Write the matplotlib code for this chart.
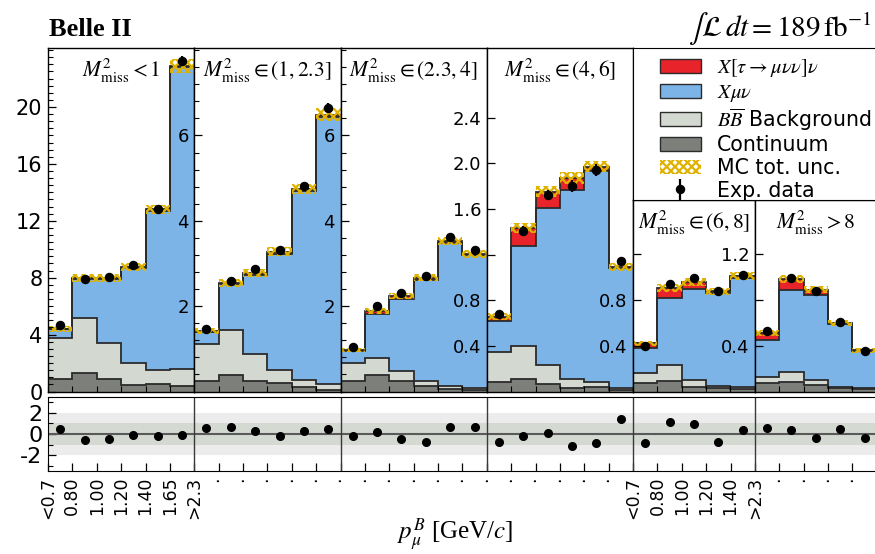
import numpy as np
import matplotlib
matplotlib.use('Agg')
import matplotlib.pyplot as plt
from matplotlib.patches import Patch
from matplotlib.ticker import MultipleLocator, FixedLocator

plt.rcParams['mathtext.fontset'] = 'stix'
plt.rcParams['font.family'] = ['DejaVu Sans']
plt.rcParams['axes.unicode_minus'] = False
plt.rcParams['hatch.linewidth'] = 1.6

# --- data ---
panel_labels = [r'$M^2_{\rm miss}<1$', r'$M^2_{\rm miss}\in(1,2.3]$', r'$M^2_{\rm miss}\in(2.3,4]$',
                r'$M^2_{\rm miss}\in(4,6]$', r'$M^2_{\rm miss}\in(6,8]$', r'$M^2_{\rm miss}>8$']
tick_labels_6 = ['<0.7', '0.80', '1.00', '1.20', '1.40', '1.65', '>2.3']
tick_labels_5 = ['<0.7', '0.80', '1.00', '1.20', '1.40', '>2.3']

continuum = [
    [0.85, 1.29, 0.85, 0.47, 0.54, 0.42],
    [0.25, 0.39, 0.25, 0.20, 0.10, 0.04],
    [0.235, 0.39, 0.235, 0.12, 0.06, 0.04],
    [0.086, 0.11, 0.066, 0.03, 0.037, 0.013],
    [0.072, 0.095, 0.042, 0.028, 0.02],
    [0.072, 0.086, 0.057, 0.028, 0.02],
]
bb_bkg = [
    [2.90, 3.91, 2.53, 1.53, 0.99, 1.18],
    [0.86, 1.04, 0.64, 0.31, 0.17, 0.13],
    [0.435, 0.39, 0.235, 0.115, 0.06, 0.04],
    [0.264, 0.29, 0.164, 0.08, 0.049, 0.017],
    [0.093, 0.135, 0.058, 0.02, 0.017],
    [0.058, 0.088, 0.043, 0.014, 0.01],
]
x_munu = [
    [0.61, 2.70, 4.56, 6.68, 11.17, 21.18],
    [0.28, 1.08, 1.84, 2.72, 4.42, 6.27],
    [0.29, 1.04, 1.70, 2.375, 3.37, 3.11],
    [0.27, 0.876, 1.38, 1.66, 1.844, 1.05],
    [0.215, 0.59, 0.80, 0.812, 0.953],
    [0.32, 0.716, 0.746, 0.548, 0.325],
]
x_tau = [
    [0.04, 0.06, 0.06, 0.08, 0.10, 0.12],
    [0.02, 0.04, 0.05, 0.05, 0.05, 0.05],
    [0.02, 0.06, 0.07, 0.06, 0.04, 0.03],
    [0.035, 0.154, 0.14, 0.10, 0.04, 0.015],
    [0.04, 0.085, 0.055, 0.015, 0.017],
    [0.06, 0.09, 0.044, 0.01, 0.005],
]
mc_unc = [
    [0.20, 0.27, 0.27, 0.29, 0.33, 0.48],
    [0.07, 0.09, 0.09, 0.10, 0.12, 0.15],
    [0.05, 0.07, 0.07, 0.08, 0.09, 0.09],
    [0.03, 0.045, 0.05, 0.05, 0.05, 0.035],
    [0.022, 0.035, 0.035, 0.03, 0.035],
    [0.025, 0.035, 0.03, 0.025, 0.02],
]
data = [
    [4.65, 7.93, 8.05, 8.87, 12.8, 23.26],
    [1.475, 2.6, 2.86, 3.32, 4.82, 6.64],
    [1.035, 2.0, 2.31, 2.7, 3.61, 3.32],
    [0.68, 1.41, 1.72, 1.80, 1.94, 1.14],
    [0.40, 0.94, 0.99, 0.88, 1.02],
    [0.525, 0.99, 0.875, 0.61, 0.35],
]
data_err = [
    [0.15, 0.2, 0.2, 0.2, 0.25, 0.35],
    [0.06, 0.08, 0.08, 0.09, 0.1, 0.12],
    [0.05, 0.07, 0.07, 0.08, 0.09, 0.09],
    [0.025, 0.04, 0.045, 0.05, 0.05, 0.035],
    [0.02, 0.035, 0.035, 0.03, 0.035],
    [0.025, 0.035, 0.03, 0.025, 0.02],
]
pulls = [
    [0.51, -0.57, -0.42, -0.05, -0.20, -0.11],
    [0.60, 0.67, 0.26, -0.20, 0.26, 0.42],
    [-0.20, 0.20, -0.48, -0.79, 0.67, 0.67],
    [-0.79, -0.17, 0.05, -1.13, -0.88, 1.44],
    [-0.88, 1.13, 0.95, -0.76, 0.39],
    [0.60, 0.33, -0.33, 0.42, -0.36],
]

ymax = [24.15, 8.05, 8.05, 3.01, 1.675, 1.675]
ytick_pos = [[0, 4, 8, 12, 16, 20], [2, 4, 6], [2, 4, 6],
             [0.4, 0.8, 1.2, 1.6, 2.0, 2.4], [0.4, 0.8, 1.2], [0.4, 0.8, 1.2]]
ytick_txt = [['0', '4', '8', '12', '16', '20'], ['2', '4', '6'], ['2', '4', '6'],
             ['0.4', '0.8', '', '1.6', '2.0', '2.4'], ['0.4', '0.8', ''], ['0.4', '', '1.2']]
minor_step = [0.5, 0.4, 0.4, None, None, None]

c_red, c_blue, c_bb, c_cont, c_gold = '#e8232a', '#7db4e8', '#d3d8d0', '#7d7f7b', '#e0b200'
c_line = '#2b2b2b'

# --- layout in pixels ---
W, H = 875, 554
fig = plt.figure(figsize=(W / 100, H / 100), dpi=100)

def px_axes(x0, y0, x1, y1):
    return fig.add_axes([x0 / W, 1 - y1 / H, (x1 - x0) / W, (y1 - y0) / H])

X0, BW = 48, 24.375
bounds = [0, 6, 12, 18, 24, 29, 34]
ytops = [48, 48, 48, 48, 200, 200]
YB = 391.5

err_handle = None
for k in range(6):
    lo, hi = bounds[k], bounds[k + 1]
    ax = px_axes(X0 + lo * BW, ytops[k], X0 + hi * BW, YB)
    edges = np.arange(lo, hi + 1)
    centers = edges[:-1] + 0.5
    cont = np.array(continuum[k])
    l1 = cont + np.array(bb_bkg[k])
    l2 = l1 + np.array(x_munu[k])
    l3 = l2 + np.array(x_tau[k])
    for top, base, col in [(cont, 0, c_cont), (l1, cont, c_bb), (l2, l1, c_blue), (l3, l2, c_red)]:
        ax.stairs(top, edges, baseline=base, fill=True, color=col, lw=0)
    for top in [cont, l1, l2, l3]:
        ax.stairs(top, edges, baseline=None, color=c_line, lw=1.3)
    unc = np.array(mc_unc[k])
    ax.stairs(l3 + unc, edges, baseline=l3 - unc, fill=True, facecolor='none',
              edgecolor=c_gold, hatch='xxxx', lw=0)
    eb = ax.errorbar(centers, data[k], yerr=data_err[k], fmt='o', color='black',
                     ms=5.8, elinewidth=1.6, capsize=0, zorder=5)
    if err_handle is None:
        err_handle = eb

    ax.set_xlim(lo, hi)
    ax.set_ylim(0, ymax[k])
    ax.set_xticks(edges)
    ax.set_xticklabels([])
    ax.tick_params(axis='x', direction='in', length=4, width=0.8)
    ax.set_yticks(ytick_pos[k])
    ax.set_yticklabels(ytick_txt[k], fontsize=15 if k == 0 else 13)
    if minor_step[k]:
        ax.yaxis.set_minor_locator(MultipleLocator(minor_step[k]))
    ax.tick_params(axis='y', which='major', direction='in', length=5.5, width=0.9, pad=4)
    ax.tick_params(axis='y', which='minor', direction='in', length=3.5, width=0.8)
    for s in ax.spines.values():
        s.set_linewidth(1.0)
    ax.annotate(panel_labels[k], xy=(0.5, 1), xycoords='axes fraction', xytext=(0, -6),
                textcoords='offset points', ha='center', va='top', fontsize=15.5)

# legend box
lax = px_axes(633, 48, X0 + 34 * BW, 200)
lax.set_xticks([])
lax.set_yticks([])
handles = [Patch(facecolor=c_red, edgecolor=c_line, lw=1),
           Patch(facecolor=c_blue, edgecolor=c_line, lw=1),
           Patch(facecolor=c_bb, edgecolor=c_line, lw=1),
           Patch(facecolor=c_cont, edgecolor=c_line, lw=1),
           Patch(facecolor='none', edgecolor=c_gold, hatch='xxxx', lw=0),
           err_handle]
labels = [r'$X[\tau\rightarrow\mu\nu\nu]\nu$', r'$X\mu\nu$', r'$B\overline{B}$ Background',
          'Continuum', 'MC tot. unc.', 'Exp. data']
lax.legend(handles, labels, loc='upper left', bbox_to_anchor=(0.11, 0.94), frameon=False,
           fontsize=14.8, borderpad=0, borderaxespad=0, handlelength=2.0, handleheight=0.67,
           handletextpad=0.8, labelspacing=0.13)

# pull panel
rax = px_axes(X0, 397, X0 + 34 * BW, 471)
rax.axhspan(-2, 2, color='#ececec', lw=0)
rax.axhspan(-1, 1, color='#d4d9d1', lw=0)
rax.axhline(0, color='#5a5a5a', lw=1.5)
for b in bounds[1:-1]:
    rax.axvline(b, color='#3a3a3a', lw=1.0)
for k in range(6):
    cx = np.arange(bounds[k], bounds[k + 1]) + 0.5
    rax.plot(cx, pulls[k], 'o', color='black', ms=5.5)
rax.set_xlim(0, 34)
rax.set_ylim(-3.45, 3.45)
xlabels = tick_labels_6 + ['\u00b7'] * 17 + tick_labels_5 + ['\u00b7'] * 5
rax.set_xticks(np.arange(35))
rax.set_xticklabels(xlabels, rotation=90, fontsize=12.5)
rax.set_yticks([-2, 0, 2])
rax.yaxis.set_minor_locator(FixedLocator([-3, -1, 1, 3]))
rax.tick_params(axis='y', labelsize=16)
rax.tick_params(axis='both', which='major', direction='in', length=5.5, width=0.9, pad=4)
rax.tick_params(axis='y', which='minor', direction='in', length=3.5, width=0.8)

fig.text(49 / W, 1 - 36 / H, 'Belle II', family='Liberation Serif', weight='bold',
         fontsize=19, va='baseline')
fig.text(872 / W, 1 - 37 / H, r'$\int\mathcal{L}\,dt = 189\,\mathrm{fb}^{-1}$',
         fontsize=21, ha='right', va='baseline')
fig.text(455 / W, 1 - 535 / H, r'$p_\mu^B$ [GeV/$c$]', family='Liberation Serif',
         fontsize=18, ha='center', va='center')

fig.savefig('out.png', dpi=100)
